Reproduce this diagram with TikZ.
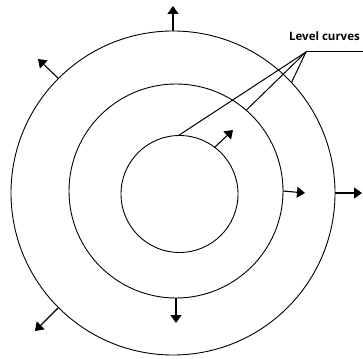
\documentclass[tikz,border=0pt]{standalone}
\usepackage{fontspec}
\setmainfont{Open Sans}
\usepackage{tikz}
\usetikzlibrary{arrows.meta, positioning, calc}

\begin{document}
\begin{tikzpicture}[
    x=1pt, y=-1pt,
    level/.style={
      circle, draw=black, line width=0.9pt,
      inner sep=0pt, outer sep=0pt
    },
    arr/.style={-{Triangle[length=8pt,width=11pt]}, line width=1.1pt, color=black},
    lead/.style={line width=1pt, color=black},
    lbl/.style={font=\bfseries\fontsize{11.5}{13}\selectfont, inner sep=0pt}
  ]
    \useasboundingbox (0,0) rectangle (363,358);

    \node[level, minimum size=324pt] (outer) at (173,193) {};
    \node[level, minimum size=214pt] (middle) at (176,191) {};
    \node[level, minimum size=117pt] (inner) at (179.5,194) {};

    % gradient arrows
    \coordinate (gtop) at (173,6);
    \coordinate (gul) at (38,59);
    \coordinate (gll) at (35,331);
    \coordinate (gro) at (362,193);
    \coordinate (grm) at (305,193);
    \coordinate (gbm) at (176,323);
    \coordinate (gin) at (233,130);
    \draw[arr] (outer.90) -- (gtop);
    \draw[arr] (outer.135) -- (gul);
    \draw[arr] (outer.225) -- (gll);
    \draw[arr] (outer.0) -- (gro);
    \draw[arr] (middle.0) -- (grm);
    \draw[arr] (middle.270) -- (gbm);
    \draw[arr] (inner.53) -- (gin);

    % label with leader lines
    \node[lbl, anchor=east] (label) at (360,36) {Level curves};
    \coordinate (hub) at (306,52);
    \coordinate (tail) at (363,52);
    \draw[lead] (tail) -- (hub);
    \draw[lead] (hub) -- (outer.43);
    \draw[lead] (hub) -- (middle.49);
    \draw[lead] (hub) -- (inner.91);
  \end{tikzpicture}
\end{document}
